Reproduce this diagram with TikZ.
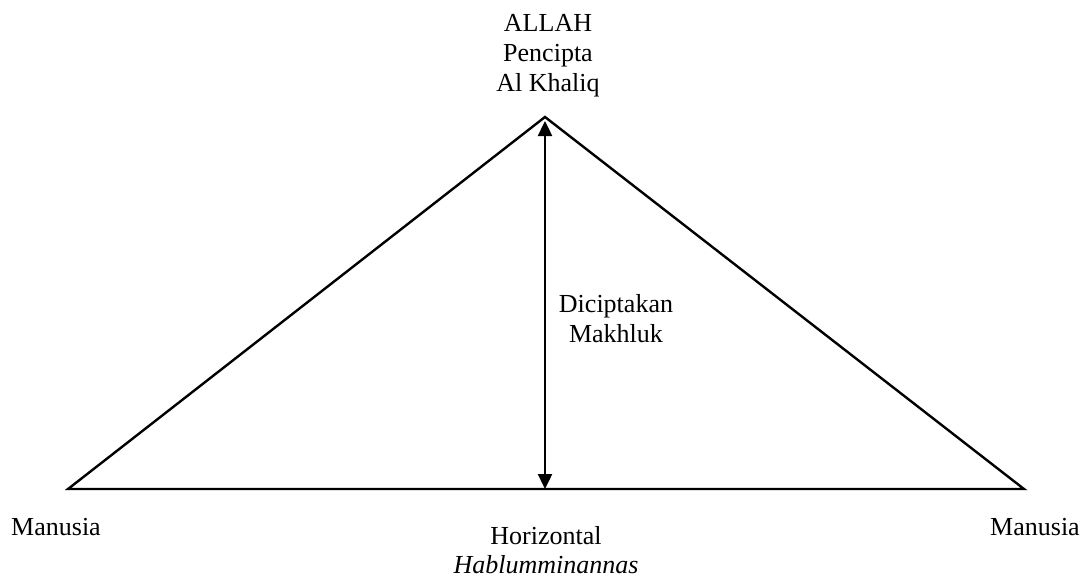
\documentclass[tikz,border=0pt]{standalone}
\usepackage{fontspec}
\setmainfont{Liberation Serif}
\usetikzlibrary{arrows.meta,positioning}

\begin{document}
\begin{tikzpicture}[
  x=0.5pt, y=-0.5pt,
  label/.style={align=center, inner sep=0pt, font=\fontsize{13}{15}\selectfont},
  edge/.style={line width=1.2pt, draw=black},
  arrow/.style={{Triangle[length=7.5pt, width=7pt]}-{Triangle[length=7.5pt, width=7pt]}, line width=1.2pt, draw=black}
]
  \useasboundingbox (0,0) rectangle (1086,578);

  \coordinate (top) at (545,117);
  \coordinate (left) at (68,489);
  \coordinate (right) at (1024,489);
  \coordinate (base) at (545,489);

  \node[label] (allah) at (548,56) {ALLAH\\Pencipta\\Al Khaliq};
  \node[label] (makhluk) at (616,319) {Diciptakan\\Makhluk};
  \node[label, anchor=base] (manusiaL) at (56,535) {Manusia};
  \node[label, anchor=base] (manusiaR) at (1035,535) {Manusia};
  \node[label, font=\fontsize{13}{14.5}\selectfont] (horizontal) at (546,550) {Horizontal\\\textit{Hablumminannas}};

  \draw[edge] (left) -- (top) -- (right) -- cycle;
  \draw[arrow] ([yshift=-2pt]top) -- (base);
\end{tikzpicture}
\end{document}
